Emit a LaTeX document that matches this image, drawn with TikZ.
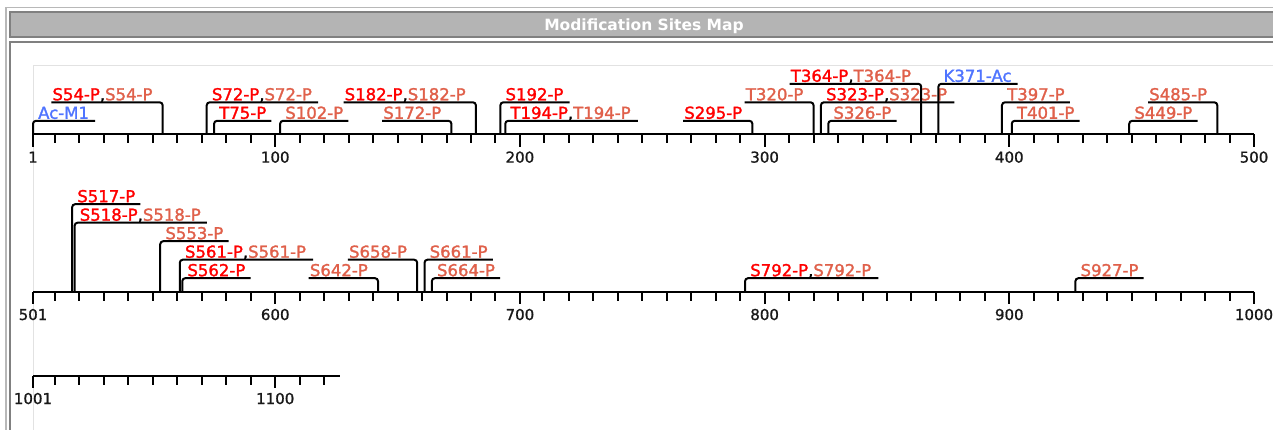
\documentclass[tikz,border=0pt]{standalone}
\usepackage{fontspec}
\setmainfont{DejaVu Sans}
\newfontfamily\sitefont{DejaVu Sans}[FakeBold=1.6]
\newfontfamily\numfont{DejaVu Sans}[FakeBold=1]
\usetikzlibrary{positioning}

\definecolor{sitered}{HTML}{FF0000}
\definecolor{sitesalmon}{HTML}{E0604A}
\definecolor{siteblue}{HTML}{4F74FF}
\definecolor{framelight}{HTML}{B8B8B8}
\definecolor{framedark}{HTML}{808080}
\definecolor{headfill}{HTML}{B4B4B4}
\definecolor{plotedge}{HTML}{E2E2E2}
\newcommand\redtxt[1]{\textcolor{sitered}{#1}}
\newcommand\saltxt[1]{\textcolor{sitesalmon}{#1}}
\newcommand\blutxt[1]{\textcolor{siteblue}{#1}}

\begin{document}
\begin{tikzpicture}[
  x=1pt, y=-1pt,
  lbl/.style={inner sep=0pt, font=\sitefont\fontsize{16.5}{19}\selectfont},
  rlbl/.style={lbl, anchor=base west, xshift=5pt},
  llbl/.style={lbl, anchor=base east, xshift=-10pt},
  brk/.style={line width=2pt, rounded corners=3pt},
  axisline/.style={line width=2pt},
  tick/.style={line width=2pt},
  num/.style={inner sep=0pt, anchor=base, text=black!90, font=\numfont\fontsize{15}{18}\selectfont},
  head/.style={inner sep=0pt, anchor=base, text=white, font=\bfseries\fontsize{15.5}{18}\selectfont}
]
\useasboundingbox (0,0) rectangle (1273,430);
\clip (0,0) rectangle (1273,430);

% frame and header bar
\fill[white] (0,0) rectangle (1273,430);
\draw[framelight, line width=1.5pt] (6,7.5) rectangle (1400,500);
\draw[framedark, line width=2pt, fill=headfill] (10,12.2) rectangle (1400,37);
\draw[framedark, line width=2pt] (10,41.7) rectangle (1400,500);
\draw[plotedge, line width=1pt] (33,500) |- (1400,66);
\node[head] (title) at (644,31) {Modification Sites Map};

% ---------------- row 1 : 1-500 ----------------
\begin{scope}[shift={({33-2.4469},134.3)}, x=2.4469pt]
\draw[axisline] (1,0) -- (500,0);
\foreach \t in {10,20,...,490} \draw[tick] (\t,0) -- (\t,9);
\foreach \t in {1,100,200,300,400,500} {
  \draw[tick] (\t,0) -- (\t,12.5);
  \node[num] (a\t) at (\t,28.3) {\t};
}

% Ac-M1
\coordinate (p1) at (1,0);
\node[rlbl] (m1) at (1,-15.5) {\blutxt{Ac-M1}};
\draw[brk] (p1) |- ([xshift=6pt,yshift=-2pt]m1.base east);
% S54
\coordinate (p54) at (54,0);
\node[llbl] (s54) at (54,-34) {\redtxt{S54-P},\saltxt{S54-P}};
\draw[brk] (p54) |- ([xshift=-1pt,yshift=-2pt]s54.base west);
% S72
\coordinate (p72) at (72,0);
\node[rlbl] (s72) at (72,-34) {\redtxt{S72-P},\saltxt{S72-P}};
\draw[brk] (p72) |- ([xshift=6pt,yshift=-2pt]s72.base east);
% T75
\coordinate (p75) at (75,0);
\node[rlbl] (t75) at (75,-15.5) {\redtxt{T75-P}};
\draw[brk] (p75) |- ([xshift=5pt,yshift=-2pt]t75.base east);
% S102
\coordinate (p102) at (102,0);
\node[rlbl] (s102) at (102,-15.5) {\saltxt{S102-P}};
\draw[brk] (p102) |- ([xshift=5pt,yshift=-2pt]s102.base east);
% S172
\coordinate (p172) at (172,0);
\node[llbl] (s172) at (172,-15.5) {\saltxt{S172-P}};
\draw[brk] (p172) |- ([xshift=-1pt,yshift=-2pt]s172.base west);
% S182
\coordinate (p182) at (182,0);
\node[llbl] (s182) at (182,-34) {\redtxt{S182-P},\saltxt{S182-P}};
\draw[brk] (p182) |- ([xshift=-1pt,yshift=-2pt]s182.base west);
% S192
\coordinate (p192) at (192,0);
\node[rlbl] (s192) at (192,-34) {\redtxt{S192-P}};
\draw[brk] (p192) |- ([xshift=6pt,yshift=-2pt]s192.base east);
% T194
\coordinate (p194) at (194,0);
\node[rlbl] (t194) at (194,-15.5) {\redtxt{T194-P},\saltxt{T194-P}};
\draw[brk] (p194) |- ([xshift=7pt,yshift=-2pt]t194.base east);
% S295
\coordinate (p295) at (295,0);
\node[llbl] (s295) at (295,-15.5) {\redtxt{S295-P}};
\draw[brk] (p295) |- ([xshift=-1pt,yshift=-2pt]s295.base west);
% T320
\coordinate (p320) at (320,0);
\node[llbl] (t320) at (320,-34) {\saltxt{T320-P}};
\draw[brk] (p320) |- ([xshift=-1pt,yshift=-2pt]t320.base west);
% S323
\coordinate (p323) at (323,0);
\node[rlbl] (s323) at (323,-34) {\redtxt{S323-P},\saltxt{S323-P}};
\draw[brk] (p323) |- ([xshift=7pt,yshift=-2pt]s323.base east);
% S326
\coordinate (p326) at (326,0);
\node[rlbl] (s326) at (326,-15.5) {\saltxt{S326-P}};
\draw[brk] (p326) |- ([xshift=5pt,yshift=-2pt]s326.base east);
% T364
\coordinate (p364) at (364,0);
\node[llbl] (t364) at (364,-52.5) {\redtxt{T364-P},\saltxt{T364-P}};
\draw[brk] (p364) |- ([xshift=-1pt,yshift=-2pt]t364.base west);
% K371
\coordinate (p371) at (371,0);
\node[rlbl] (k371) at (371,-52.5) {\blutxt{K371-Ac}};
\draw[brk] (p371) |- ([xshift=6pt,yshift=-2pt]k371.base east);
% T397
\coordinate (p397) at (397,0);
\node[rlbl] (t397) at (397,-34) {\saltxt{T397-P}};
\draw[brk] (p397) |- ([xshift=5pt,yshift=-2pt]t397.base east);
% T401
\coordinate (p401) at (401,0);
\node[rlbl] (t401) at (401,-15.5) {\saltxt{T401-P}};
\draw[brk] (p401) |- ([xshift=5pt,yshift=-2pt]t401.base east);
% S449
\coordinate (p449) at (449,0);
\node[rlbl] (s449) at (449,-15.5) {\saltxt{S449-P}};
\draw[brk] (p449) |- ([xshift=5pt,yshift=-2pt]s449.base east);
% S485
\coordinate (p485) at (485,0);
\node[llbl] (s485) at (485,-34) {\saltxt{S485-P}};
\draw[brk] (p485) |- ([xshift=-1pt,yshift=-2pt]s485.base west);
\end{scope}

% ---------------- row 2 : 501-1000 ----------------
\begin{scope}[shift={({33-501*2.4469},291.7)}, x=2.4469pt]
\draw[axisline] (501,0) -- (1000,0);
\foreach \t in {510,520,...,990} \draw[tick] (\t,0) -- (\t,9);
\foreach \t in {501,600,700,800,900,1000} {
  \draw[tick] (\t,0) -- (\t,12.5);
  \node[num] (a\t) at (\t,28.3) {\t};
}

% S517
\coordinate (p517) at (517,0);
\node[rlbl] (s517) at (517,-89.5) {\redtxt{S517-P}};
\draw[brk] (p517) |- ([xshift=5pt,yshift=-2pt]s517.base east);
% S518
\coordinate (p518) at (518,0);
\node[rlbl] (s518) at (518,-71) {\redtxt{S518-P},\saltxt{S518-P}};
\draw[brk] (p518) |- ([xshift=6pt,yshift=-2pt]s518.base east);
% S553
\coordinate (p553) at (553,0);
\node[rlbl] (s553) at (553,-52.5) {\saltxt{S553-P}};
\draw[brk] (p553) |- ([xshift=5pt,yshift=-2pt]s553.base east);
% S561
\coordinate (p561) at (561,0);
\node[rlbl] (s561) at (561,-34) {\redtxt{S561-P},\saltxt{S561-P}};
\draw[brk] (p561) |- ([xshift=7pt,yshift=-2pt]s561.base east);
% S562
\coordinate (p562) at (562,0);
\node[rlbl] (s562) at (562,-15.5) {\redtxt{S562-P}};
\draw[brk] (p562) |- ([xshift=5pt,yshift=-2pt]s562.base east);
% S642
\coordinate (p642) at (642,0);
\node[llbl] (s642) at (642,-15.5) {\saltxt{S642-P}};
\draw[brk] (p642) |- ([xshift=-1pt,yshift=-2pt]s642.base west);
% S658
\coordinate (p658) at (658,0);
\node[llbl] (s658) at (658,-34) {\saltxt{S658-P}};
\draw[brk] (p658) |- ([xshift=-1pt,yshift=-2pt]s658.base west);
% S661
\coordinate (p661) at (661,0);
\node[rlbl] (s661) at (661,-34) {\saltxt{S661-P}};
\draw[brk] (p661) |- ([xshift=5pt,yshift=-2pt]s661.base east);
% S664
\coordinate (p664) at (664,0);
\node[rlbl] (s664) at (664,-15.5) {\saltxt{S664-P}};
\draw[brk] (p664) |- ([xshift=5pt,yshift=-2pt]s664.base east);
% S792
\coordinate (p792) at (792,0);
\node[rlbl] (s792) at (792,-15.5) {\redtxt{S792-P},\saltxt{S792-P}};
\draw[brk] (p792) |- ([xshift=7pt,yshift=-2pt]s792.base east);
% S927
\coordinate (p927) at (927,0);
\node[rlbl] (s927) at (927,-15.5) {\saltxt{S927-P}};
\draw[brk] (p927) |- ([xshift=5pt,yshift=-2pt]s927.base east);
\end{scope}

% ---------------- row 3 : 1001- ----------------
\begin{scope}[shift={({33-1001*2.4469},375.7)}, x=2.4469pt]
\draw[axisline] (1001,0) -- (1126.5,0);
\foreach \t in {1010,1020,...,1120} \draw[tick] (\t,0) -- (\t,9);
\foreach \t in {1001,1100} {
  \draw[tick] (\t,0) -- (\t,12.5);
  \node[num] (a\t) at (\t,28.3) {\t};
}
\end{scope}
\end{tikzpicture}
\end{document}
